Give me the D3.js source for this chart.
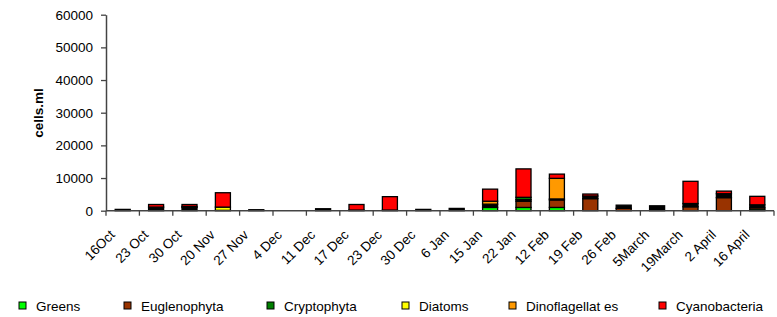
<!DOCTYPE html>
<html><head><meta charset="utf-8">
<script src="https://cdn.jsdelivr.net/npm/d3@7"></script>
<style>
body{margin:0;background:#fff;}
svg text{font-family:"Liberation Sans",Arial,sans-serif;fill:#000;}
</style></head>
<body><svg id="c" width="777" height="317"></svg>
<script>
const categories = ["16Oct","23 Oct","30 Oct","20 Nov","27 Nov","4 Dec","11 Dec","17 Dec","23 Dec","30 Dec","6 Jan","15 Jan","22 Jan","12 Feb","19 Feb","26 Feb","5March","19March","2 April","16 April"];
const greens          = [0,0,0,0,0,0,0,0,0,0,0,1000,1000,1000,0,0,0,0,0,500];
const euglenophyta    = [0,0,0,0,0,0,0,0,0,0,0,0,1900,2300,3700,700,0,1200,4000,500];
const unlabelled      = [400,1100,1000,100,300,0,600,200,200,400,700,1000,500,300,800,1000,1500,1000,1200,800];
const cryptophyta     = [0,0,0,0,0,0,0,0,0,0,0,0,700,0,0,0,0,0,0,0];
const diatoms         = [0,0,0,1000,0,0,0,0,0,0,0,0,0,0,0,0,0,0,0,0];
const dinoflagellates = [0,0,300,0,0,0,0,0,0,0,0,900,0,6300,0,0,0,0,0,0];
const cyanobacteria   = [0,800,600,4400,0,0,0,1700,4100,0,0,3700,8700,1300,600,0,0,6800,800,2600];
const seriesNames = ["Greens","Euglenophyta","Unlabelled","Cryptophyta","Diatoms","Dinoflagellat es","Cyanobacteria"];
const seriesColors = ["#00ff00","#993300","#000000","#008000","#ffff00","#ff9900","#ff0000"];
const legendNames = ["Greens","Euglenophyta","Cryptophyta","Diatoms","Dinoflagellat es","Cyanobacteria"];
const yTicks = [0,10000,20000,30000,40000,50000,60000];

const seriesValues = [greens,euglenophyta,unlabelled,cryptophyta,diatoms,dinoflagellates,cyanobacteria];
const keys = seriesNames;
const colorOf = d3.scaleOrdinal().domain(seriesNames).range(seriesColors);
const table = categories.map((c,i)=>{const o={cat:c}; keys.forEach((k,j)=>o[k]=seriesValues[j][i]); return o;});
const stack = d3.stack().keys(keys)(table);

const svg = d3.select("#c");
const x0 = 106, x1 = 774, yTop = 14.7, yBot = 210.7;
const x = d3.scaleBand().domain(categories).range([x0,x1]).paddingInner(0.55).paddingOuter(0.275);
const y = d3.scaleLinear().domain([0,60000]).range([yBot,yTop]);

// bars
svg.append("g").selectAll("g").data(stack).join("g")
  .attr("fill",d=>colorOf(d.key))
  .selectAll("rect").data(d=>d.filter(s=>s[1]-s[0]>0)).join("rect")
  .attr("x",d=>x(d.data.cat))
  .attr("width",x.bandwidth())
  .attr("y",d=>y(d[1]))
  .attr("height",d=>y(d[0])-y(d[1]))
  .attr("stroke","#000").attr("stroke-width",1.3);

// y axis
const ya = svg.append("g").attr("transform",`translate(${x0},0)`)
  .call(d3.axisLeft(y).tickValues(yTicks).tickSize(5).tickSizeOuter(0).tickPadding(8).tickFormat(d3.format("d")));
ya.select(".domain").attr("stroke","#444").attr("stroke-width",1.5);
ya.selectAll(".tick line").attr("stroke","#444").attr("stroke-width",1.3);
ya.selectAll("text").style("font-size","13.5px");

// x axis
const step = x.step();
const xa = svg.append("g").attr("transform",`translate(0,${yBot})`)
  .call(d3.axisBottom(x).tickSize(0).tickPadding(0));
xa.select(".domain").attr("stroke","#444").attr("stroke-width",1.5).attr("d",`M${x0},0H${x1}`);
xa.selectAll(".tick text")
  .style("font-size","13.5px")
  .attr("text-anchor","end")
  .attr("dy",0)
  .attr("transform","translate(-7,25) rotate(-45)");
svg.append("g").selectAll("line").data(d3.range(categories.length+1)).join("line")
  .attr("x1",i=>x0+i*step).attr("x2",i=>x0+i*step)
  .attr("y1",yBot).attr("y2",yBot+5)
  .attr("stroke","#444").attr("stroke-width",1.3);

// y label
svg.append("text").attr("transform","translate(43,113) rotate(-90)")
  .attr("text-anchor","middle").style("font-size","13.5px").style("font-weight","bold").text("cells.ml");

// legend
const legX = [19,124,267,402,509,659];
const lg = svg.append("g").selectAll("g").data(legendNames).join("g")
  .attr("transform",(d,i)=>`translate(${legX[i]},302)`);
lg.append("rect").attr("width",7).attr("height",7).attr("fill",d=>colorOf(d)).attr("stroke","#000").attr("stroke-width",1);
lg.append("text").attr("x",17).attr("y",9).style("font-size","13.5px").text(d=>d);
</script></body></html>
